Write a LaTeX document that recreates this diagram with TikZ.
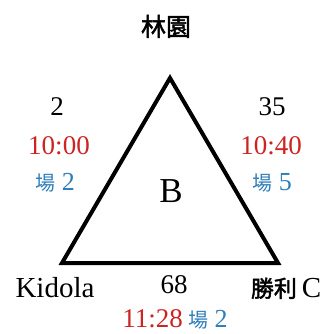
\documentclass[tikz,border=0pt]{standalone}
\usepackage{fontspec}
\setmainfont{Liberation Serif}
\newfontfamily\cjk{Noto Sans CJK TC}
\newfontfamily\cjkb{Noto Sans CJK TC}[FakeBold=2]
\definecolor{tred}{RGB}{205,35,35}
\definecolor{tblue}{RGB}{45,125,185}
\begin{document}
\begin{tikzpicture}[x=1pt,y=-1pt,
  lbl/.style={inner sep=0pt,anchor=base},
  num/.style={lbl,font=\fontsize{27}{27}\selectfont},
  tim/.style={lbl,text=tred,font=\fontsize{27}{27}\selectfont},
  fld/.style={lbl,text=tblue,font=\fontsize{26}{26}\selectfont},
  place/.style={lbl,font=\fontsize{29}{29}\selectfont},
  edge/.style={line width=4pt,line join=miter}]
\useasboundingbox (0,0) rectangle (328,334);
\coordinate (top) at (170,78);
\coordinate (bl) at (62,263);
\coordinate (br) at (278,263);
\draw[edge] (top) -- (bl) -- (br) -- cycle;
\node[lbl,font=\cjkb\fontsize{25}{25}\selectfont] (lin) at (166,36) {林園};
\node[num] (dA) at (57,115) {2};
\node[tim] (tA) at (59,154) {10:00};
\node[fld] (fA) at (55,190) {{\cjk\fontsize{20}{20}\selectfont 場} 2};
\node[num] (dB) at (272,115) {35};
\node[tim] (tB) at (271,154) {10:40};
\node[fld] (fB) at (272,190) {{\cjk\fontsize{20}{20}\selectfont 場} 5};
\node[lbl,font=\fontsize{35}{35}\selectfont] (B) at (171,202) {B};
\node[place] (kid) at (55,297) {Kidola};
\node[num] (dC) at (174,293) {68};
\node[place] (win) at (286,297) {{\cjkb\fontsize{23}{23}\selectfont 勝利}\,C};
\node[tim,anchor=base east] (tC) at (183,327) {11:28};
\node[fld,anchor=base west] (fC) at (188,327) {{\cjk\fontsize{20}{20}\selectfont 場} 2};
\end{tikzpicture}
\end{document}
